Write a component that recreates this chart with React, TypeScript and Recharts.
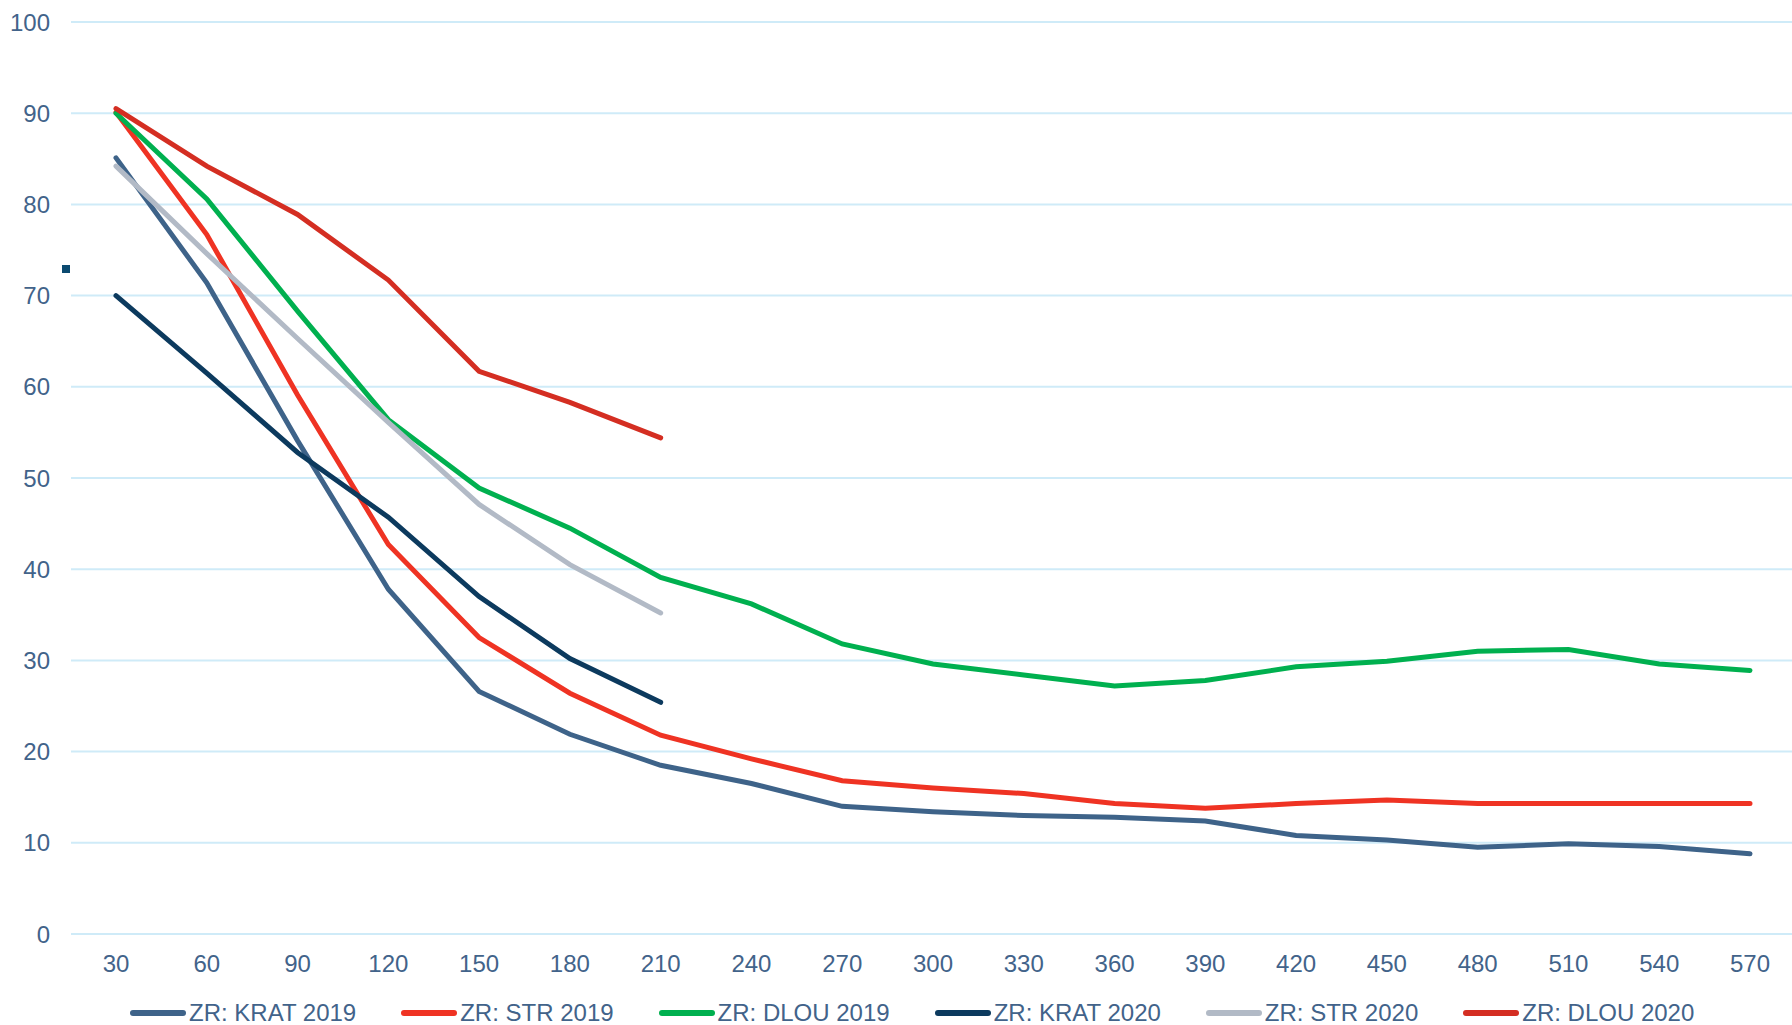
import React from 'react';
import { LineChart, Line, XAxis, YAxis, CartesianGrid } from 'recharts';

const categories = [30, 60, 90, 120, 150, 180, 210, 240, 270, 300, 330, 360, 390, 420, 450, 480, 510, 540, 570];

const krat2019 = [85.1, 71.4, 54.1, 37.8, 26.6, 21.9, 18.5, 16.5, 14.0, 13.4, 13.0, 12.8, 12.4, 10.8, 10.3, 9.5, 9.9, 9.6, 8.8];
const str2019 = [90.1, 76.7, 59.1, 42.7, 32.5, 26.4, 21.8, 19.2, 16.8, 16.0, 15.4, 14.3, 13.8, 14.3, 14.7, 14.3, 14.3, 14.3, 14.3];
const dlou2019 = [90.0, 80.6, 68.3, 56.4, 48.9, 44.5, 39.1, 36.2, 31.8, 29.6, 28.4, 27.2, 27.8, 29.3, 29.9, 31.0, 31.2, 29.6, 28.9];
const krat2020 = [70.0, 61.5, 52.8, 45.7, 37.0, 30.2, 25.4];
const str2020 = [84.2, 74.6, 65.3, 56.1, 47.1, 40.5, 35.2];
const dlou2020 = [90.5, 84.2, 78.9, 71.7, 61.7, 58.3, 54.4];

const yTicks = [0, 10, 20, 30, 40, 50, 60, 70, 80, 90, 100];

const series = [
  { key: 'k19', name: 'ZR: KRAT 2019', color: '#3E6389', values: krat2019 },
  { key: 's19', name: 'ZR: STR 2019', color: '#EF3323', values: str2019 },
  { key: 'd19', name: 'ZR: DLOU 2019', color: '#00B04F', values: dlou2019 },
  { key: 'k20', name: 'ZR: KRAT 2020', color: '#0C3A5E', values: krat2020 },
  { key: 's20', name: 'ZR: STR 2020', color: '#B2BAC6', values: str2020 },
  { key: 'd20', name: 'ZR: DLOU 2020', color: '#D42E22', values: dlou2020 },
];

const data = categories.map((c, i) => {
  const row: any = { name: String(c) };
  series.forEach(s => {
    row[s.key] = i < s.values.length ? s.values[i] : null;
  });
  return row;
});

const FONT = '"Liberation Sans", Arial, sans-serif';
const TEXT = '#42638A';

export default function App() {
  return (
    <div style={{ position: 'absolute', left: 0, top: 0, width: 1792, height: 1025, background: '#fff', overflow: 'hidden', fontFamily: FONT }}>
      <LineChart width={1792} height={1025} data={data} margin={{ top: 22, right: 0, bottom: 0, left: 0 }}>
        <CartesianGrid vertical={false} stroke="#CFEBF8" strokeWidth={2} />
        <XAxis
          dataKey="name"
          axisLine={false}
          tickLine={false}
          tickSize={0}
          tickMargin={21}
          height={91}
          interval={0}
          padding={{ left: 45, right: 42 }}
          tick={{ fill: TEXT, fontSize: 24, fontFamily: FONT }}
        />
        <YAxis
          domain={[0, 100]}
          ticks={yTicks}
          axisLine={false}
          tickLine={false}
          tickSize={0}
          tickMargin={21}
          width={71}
          tick={{ fill: TEXT, fontSize: 24, fontFamily: FONT }}
        />
        {series.map(s => (
          <Line
            key={s.key}
            type="linear"
            dataKey={s.key}
            name={s.name}
            stroke={s.color}
            strokeWidth={5}
            strokeLinecap="round"
            dot={false}
            activeDot={false}
            isAnimationActive={false}
          />
        ))}
      </LineChart>
      {/* stray marker left of the plot */}
      <div style={{ position: 'absolute', left: 62, top: 265, width: 8, height: 8, background: '#0B4A70' }} />
      <div style={{ position: 'absolute', left: 130, top: 1001, display: 'flex', alignItems: 'center', gap: 45 }}>
        {series.map(s => (
          <div key={s.key} style={{ display: 'flex', alignItems: 'center' }}>
            <div style={{ width: 56, height: 6, borderRadius: 3, background: s.color, marginRight: 3 }} />
            <span style={{ color: TEXT, fontSize: 24, lineHeight: '24px', whiteSpace: 'nowrap' }}>{s.name}</span>
          </div>
        ))}
      </div>
    </div>
  );
}
